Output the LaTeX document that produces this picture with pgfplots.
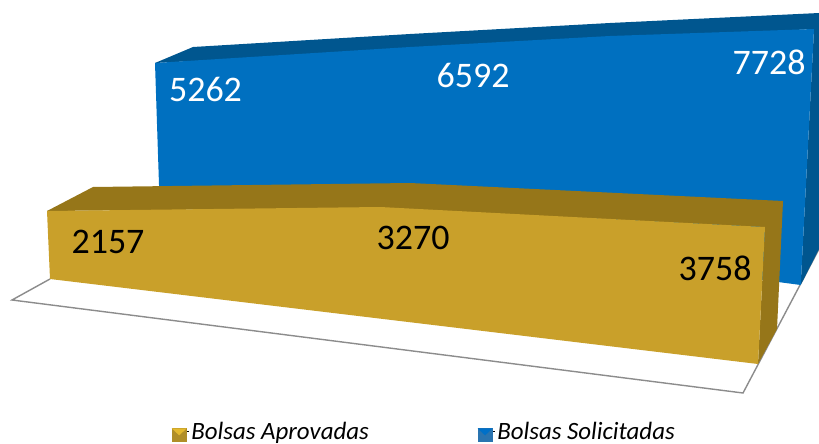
\documentclass[border=0pt]{standalone}
\usepackage{pgfplots}
\pgfplotsset{compat=1.18}
\usepackage{fontspec}
\setmainfont{Carlito}
\definecolor{bluefront}{HTML}{0070C0}
\definecolor{bluedark}{HTML}{00568F}
\definecolor{goldfront}{HTML}{C9A02A}
\definecolor{golddark}{HTML}{967619}
\definecolor{floorline}{HTML}{8C8C8C}
\definecolor{swgold}{HTML}{B08E28}
\definecolor{swgoldtop}{HTML}{E3B92F}
\definecolor{swblue}{HTML}{2A74B0}
\definecolor{swbluetop}{HTML}{0070C8}
\begin{document}
\begin{tikzpicture}
\path[use as bounding box] (0,0) rectangle (819bp,444bp);
\begin{axis}[
  at={(0,0)}, anchor=south west,
  scale only axis, width=819bp, height=444bp,
  xmin=0, xmax=819, ymin=0, ymax=444, y dir=reverse,
  axis lines=none, clip=false,
  legend columns=2,
  legend style={at={(axis cs:172,431.5)}, anchor=west, draw=none, fill=none,
    font=\fontsize{25}{26}\selectfont\itshape, inner sep=0pt, outer sep=0pt,
    /tikz/every even column/.append style={column sep=107bp}},
  legend cell align=left,
]
% floor
\addplot[forget plot, draw=floorline, line width=1.4bp, fill=white] coordinates {(50,279) (12,300) (743,393) (819,249)};
\addplot[forget plot, draw=floorline, line width=1.4bp] coordinates {(812,237) (819,240)};
% Bolsas Solicitadas
\addplot[forget plot, fill=bluedark, draw=none] coordinates {(155,63) (193,47) (410,34) (610,23) (819,13) (819,249) (800.7,285) (814,29)} --cycle;
\addplot[forget plot, fill=bluefront, draw=none] coordinates {(155,63) (410,47) (610,36) (814,29) (800.7,285) (159.5,200)} --cycle;
% Bolsas Aprovadas
\addplot[forget plot, fill=golddark, draw=none] coordinates {(47,211) (93,187) (410,183) (783,201) (777,329) (758,364) (765,227) (380,208)} --cycle;
\addplot[forget plot, fill=goldfront, draw=none] coordinates {(47,211) (380,207) (765,227) (758,364) (50,279)} --cycle;
% data labels
\addplot[forget plot, draw=none, mark=none, point meta=explicit symbolic, nodes near coords,
  nodes near coords style={anchor=center, inner sep=0pt, text=white, font=\fontsize{36.1}{40}\selectfont}]
  coordinates {(205.5,89)[5262] (473,75)[6592] (769,62)[7728]};
\addplot[forget plot, draw=none, mark=none, point meta=explicit symbolic, nodes near coords,
  nodes near coords style={anchor=center, inner sep=0pt, text=black, font=\fontsize{36.1}{40}\selectfont}]
  coordinates {(108,242)[2157] (413,238)[3270] (715,268)[3758]};
% legend
\addlegendimage{legend image code/.code={
  \path (0bp,0bp) -- (17bp,0bp);
  \fill[swgold] (0bp,-10bp) rectangle (14bp,3bp);
  \fill[swgoldtop] (0bp,3bp) -- (14bp,3bp) -- (7bp,-3.5bp) -- cycle;}}
\addlegendentry{Bolsas Aprovadas}
\addlegendimage{legend image code/.code={
  \path (0bp,0bp) -- (17bp,0bp);
  \fill[swblue] (0bp,-10bp) rectangle (14bp,3bp);
  \fill[swbluetop] (0bp,3bp) -- (14bp,3bp) -- (7bp,-3.5bp) -- cycle;}}
\addlegendentry{Bolsas Solicitadas}
\end{axis}
\end{tikzpicture}
\end{document}
